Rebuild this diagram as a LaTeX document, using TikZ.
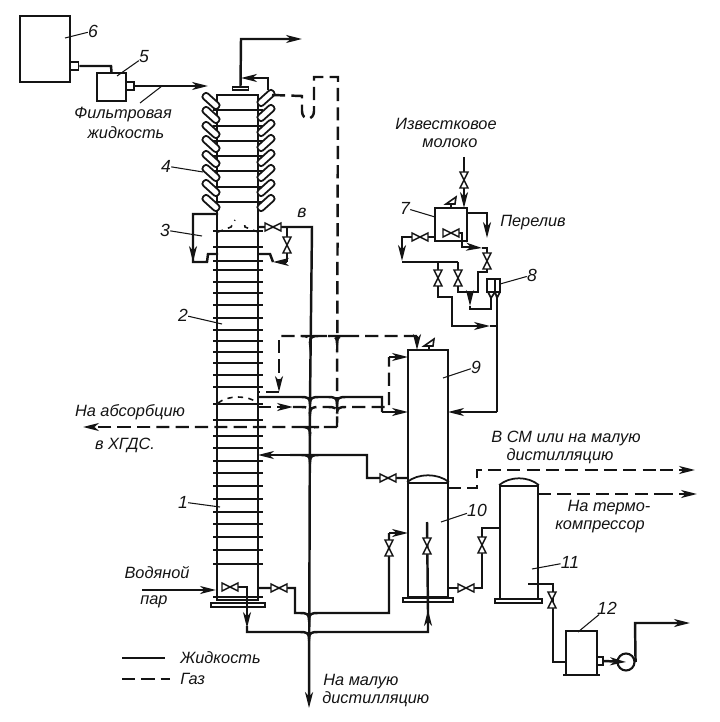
\documentclass[tikz,border=0pt]{standalone}
\usepackage{fontspec}
\setmainfont{Liberation Sans}
\usepackage{xcolor}
\definecolor{inkblack}{RGB}{20, 20, 20}
\usepackage{tikz}
\usetikzlibrary{arrows.meta, positioning, calc}
\newcommand{\pixel}{0.02cm}
% horizontal run that ducks under a vertical pipe
\newcommand{\hop}[2]{-- (#1-9,#2) .. controls (#1-2,#2) and (#1,#2+1) .. (#1,#2+7) .. controls (#1,#2+1) and (#1+2,#2) .. (#1+9,#2)}

\begin{document}
\begin{tikzpicture}[x=0.02cm, y=-0.02cm, inkblack,
        vessel/.style={rectangle, draw=inkblack, line width=1pt, inner sep=0pt},
        plate/.style={rectangle, draw=inkblack, line width=0.9pt, fill=white, inner sep=0pt, minimum height=4*\pixel},
        flange/.style={rectangle, draw=inkblack, line width=0.9pt, fill=white, inner sep=0pt, minimum width=8*\pixel, minimum height=8*\pixel},
        coil/.style={rectangle, draw=inkblack, line width=1pt, fill=white, rounded corners=1.6pt, inner sep=0pt, minimum width=20*\pixel, minimum height=7*\pixel},
        pipe/.style={draw=inkblack, line width=1.4pt},
        flow/.style={-{Stealth[length=9pt, width=4.5pt, inset=2.5pt]}},
        gas/.style={pipe, dash pattern=on 7.5pt off 3.5pt},
        wall/.style={draw=inkblack, line width=1pt},
        tray/.style={draw=inkblack, line width=0.9pt},
        leader/.style={draw=inkblack, line width=0.6pt},
        label/.style={font=\fontsize{9.3}{11}\selectfont\itshape, inner sep=0pt, text=inkblack},
        number/.style={font=\fontsize{10}{12}\selectfont\itshape, inner sep=0pt, text=inkblack},
        valve/.pic={\draw[fill=white, line width=0.8pt] (-8,-4) -- (8,4) -- (8,-4) -- (-8,4) -- cycle;},
        relief/.pic={\draw[line width=0.9pt] (0,0) -- (0,-4) (-5,-4) -- (5,-11) -- (4,-4) -- cycle;}]
        \useasboundingbox (0,0) rectangle (719,722);

        % apparatus
        \node [vessel, minimum width=50*\pixel, minimum height=66*\pixel] (tank) at (45,49) {};
        \node [vessel, minimum width=29*\pixel, minimum height=28*\pixel] (filter) at (111.5,87) {};
        \node [vessel, minimum width=41*\pixel, minimum height=505*\pixel] (column) at (237.5,347.5) {};
        \node [vessel, minimum width=32*\pixel, minimum height=33*\pixel] (doser) at (451,224.5) {};
        \node [vessel, minimum width=13*\pixel, minimum height=13*\pixel] (meter) at (493.5,285.5) {};
        \node [vessel, minimum width=40*\pixel, minimum height=133*\pixel] (scrubber) at (428,416.5) {};
        \node [vessel, minimum width=40*\pixel, minimum height=114*\pixel] (still) at (428,540) {};
        \node [vessel, minimum width=38*\pixel, minimum height=113*\pixel] (boiler) at (519,542.5) {};
        \node [vessel, minimum width=31*\pixel, minimum height=44*\pixel] (pan) at (581.5,653) {};
        \node [circle, draw=inkblack, line width=1.2pt, inner sep=0pt, minimum size=17*\pixel] (pump) at (626,662) {};

        \node [plate, minimum width=54*\pixel] (columnplate) at (238,605) {};
        \node [plate, minimum width=50*\pixel] (stillplate) at (428,600) {};
        \node [plate, minimum width=47*\pixel] (boilerplate) at (518.5,601) {};
        \draw [tray] (563,675) -- (600,675);
        \node [plate, minimum width=16*\pixel, minimum height=3*\pixel] (columnlid) at (240.5,88.5) {};

        % domes and inner lines
        \draw [wall] (still.north west) .. controls (418,473) and (438,473) .. (still.north east);
        \draw [wall] (boiler.north west) .. controls (510,476) and (528,476) .. (boiler.north east);
        \draw [wall] (495,279) -- (495,292);
        \draw [wall] (488,292) -- (491,298) -- (495,292) -- (497,298) -- (500,292);
        \draw [tray, dashed] (218,403) .. controls (228,395) and (248,395) .. (258,403);

        % trays of the column
        \foreach \y in {110,126,141,156,171,187,202,231,247,261,270,282,293,305,318,330,341,352,363,375,387,404,420,436,448,461,473,486,499,512,524,537,550,564,597}
            \draw [tray] (213,\y) -- (263,\y);
        \draw [tray] (223,95) -- (258,95);

        % coils
        \foreach \i/\y in {1/101,2/115,3/130,4/144,5/159,6/173,7/188,8/203}
            \node [coil, rotate=-42] (coilleft\i) at (211,\y) {};
        \foreach \i/\y in {1/98,2/113,3/128,4/143,5/158,6/173,7/188,8/203}
            \node [coil, rotate=42] (coilright\i) at (266,\y) {};

        % enlarged section 3
        \path [pipe] (218,214) -- (193,214) -- (193,262) -- (207,262) -- (208,254) -- (218,254);
        \path [pipe, flow] (193,240) -- (193,262);
        \path [pipe] (258,254) -- (270,254) -- (273,262);
        \path [pipe, flow] (287,262) -- (273,262);
        \path [pipe] (287,262) -- (287,227);
        \draw [tray, dashed] (218,232) -- (231,227) -- (235,220);
        \draw [tray, dashed] (258,232) -- (245,227) -- (244,220);

        % filter and tank
        \node [flange] (tankflange) at (74.5,66) {};
        \node [flange] (filterflange) at (130,86) {};
        \path [pipe] (tankflange.east) -- (111,66) -- (filter.north);
        \path [pipe, flow] (filterflange.east) -- (208,86);

        % top of the column
        \path [pipe, flow] (columnlid.north) -- (241,39) -- (302,39);
        \path [pipe, flow] (268,90) -- (268,78) -- (241,78);
        \path [gas] (272,95) -- (302,96) -- (302,111) .. controls (302,121) and (314,121) .. (314,111) -- (314,77) -- (338,77) -- (337,427);

        % main vertical
        \path [pipe] (258,227) -- (312,227) -- (310,400);
        \path [pipe, flow] (310,400) -- (309,708);

        % dashed and solid runs between the columns
        \path [gas, flow] (417,336) -- (417,350);
        \path [gas] (417,336) \hop{337}{336} \hop{310}{336} -- (279,336);
        \path [gas, flow] (279,340) -- (279,392);
        \path [gas] (279,392) -- (258,392);
        \path [pipe] (258,397) \hop{310}{397} \hop{337}{397} -- (382,397) -- (382,412);
        \path [pipe, flow] (382,412) -- (408,412);
        \path [gas, flow] (258,407) -- (293,407);
        \path [gas] (293,407) \hop{310}{407} \hop{337}{407} -- (389,407) -- (389,357);
        \path [pipe, flow] (389,357) -- (408,357);
        \path [gas] (337,427) \hop{310}{427} -- (150,427);
        \path [gas, flow] (150,427) -- (83,427);
        \path [pipe] (408,478) -- (367,478) -- (367,455) \hop{310}{455} -- (290,455);
        \path [pipe, flow] (290,455) -- (258,455);

        % bottom of column 1
        \path [pipe, flow] (142,590) -- (216,590);
        \path [pipe] (238,587) -- (247,587) -- (247,600);
        \path [pipe, flow] (247,600) -- (247,628);
        \path [pipe] (247,626) -- (247,632) \hop{309}{632} -- (428,632) -- (428,612);
        \path [pipe, flow] (428,632) -- (428,610);
        \path [pipe] (428,612) -- (427,522);
        \path [pipe] (257,588) -- (295,588) -- (295,613) \hop{309}{613} -- (389,613) -- (389,533);
        \path [pipe, flow] (389,533) -- (408,533);

        % columns 10 and 11
        \path [gas] (448,488) -- (477,488) -- (477,470) -- (660,470);
        \path [gas, flow] (660,470) -- (695,470);
        \path [gas] (538,494) -- (660,494);
        \path [gas, flow] (660,494) -- (697,494);
        \path [pipe] (448,588) -- (482,588) -- (482,528) -- (500,528);
        \path [pipe] (528,584) -- (553,584) -- (553,662) -- (566,662);

        % pump
        \node [flange, minimum width=6*\pixel] (panflange) at (600,661) {};
        \path [pipe, flow] (panflange.east) -- (pump.center);
        \path [pipe, flow] (pump.east) -- (635,623) -- (690,623);

        % lime milk unit
        \path [pipe] (464,157) -- (464,190);
        \path [pipe, flow] (464,190) -- (464,208);
        \path [pipe, flow] (467,213) -- (487,213) -- (487,238);
        \path [pipe] (451,233) -- (462,233) -- (462,247) -- (470,247);
        \path [pipe, flow] (470,247) -- (482,248);
        \path [pipe] (482,248) -- (487,248) -- (487,272) -- (478,272) -- (478,292) -- (458,292) -- (458,262);
        \path [pipe] (doser.south west |- 0,237) -- (402,237) -- (402,250);
        \path [pipe, flow] (402,237) -- (402,261);
        \path [pipe] (402,262) -- (458,262);
        \path [pipe] (438,262) -- (438,297) -- (452,297) -- (452,326) -- (470,326);
        \path [pipe, flow] (470,326) -- (490,326);
        \path [pipe] (490,326) -- (497,326);
        \path [pipe, flow] (470,292) -- (470,306);
        \path [pipe] (470,306) -- (470,309) -- (491,309) -- (491,298);
        \path [pipe] (497,298) -- (497,412);
        \path [pipe, flow] (497,412) -- (448,412);

        % valves
        \foreach \x/\y/\r in {273/227/0,287/245/90,230/587/0,279/588/0,389/548/90,427/546/90,388/478/0,466/588/0,482/545/90,552/600/90,464/180/90,451/233/0,420/237/0,487/261/90,438/278/90,458/278/90}
            \pic [rotate=\r] at (\x,\y) {valve};
        \pic at (451,208) {relief};
        \pic at (429,350) {relief};

        % legend
        \node [label, anchor=west] (legendliquid) at (180,658) {Жидкость};
        \node [label, anchor=west] (legendgas) at (180,679) {Газ};
        \path [pipe] (122,658) -- (165,658);
        \path [gas] (122,679) -- (170,679);

        % texts
        \node [label] (filtrate) at (123,115) {Фильтровая};
        \node [label] (filtrateb) at (126,133) {жидкость};
        \node [label] (limemilk) at (446,124) {Известковое};
        \node [label] (limemilkb) at (450,143) {молоко};
        \node [label] (overflow) at (533,223) {Перелив};
        \node [label] (absorb) at (130,412) {На абсорбцию};
        \node [label] (absorbb) at (125,445) {в ХГДС.};
        \node [label] (steam) at (157,573) {Водяной};
        \node [label] (steamb) at (154,602) {пар};
        \node [label, anchor=west] (smalldist) at (323,682) {На малую};
        \node [label, anchor=west] (smalldistb) at (322,699) {дистилляцию};
        \node [label] (tosm) at (566,438) {В СМ или на малую};
        \node [label] (tosmb) at (560,456) {дистилляцию};
        \node [label] (thermo) at (609,508) {На термо-};
        \node [label] (thermob) at (600,527) {компрессор};

        % numbers with their leaders
        \node [number] (nsix) at (93,31) {6};
        \node [number] (nfive) at (144,57) {5};
        \node [number] (nfour) at (166,166) {4};
        \node [number] (nthree) at (165,230) {3};
        \node [number] (ntwo) at (183,315) {2};
        \node [number] (none) at (183,502) {1};
        \node [number] (nseven) at (405,208) {7};
        \node [number] (neight) at (532,275) {8};
        \node [number] (nnine) at (476,367) {9};
        \node [number] (nten) at (477,510) {10};
        \node [number] (neleven) at (570,562) {11};
        \node [number] (ntwelve) at (607,608) {12};
        \node [number] (nv) at (302,213) {в};
        \path [leader] (nsix) -- (65,38);
        \path [leader] (nfive) -- (117,76);
        \path [leader] (nfour) -- (203,172);
        \path [leader] (nthree) -- (202,236);
        \path [leader] (ntwo) -- (222,324);
        \path [leader] (none) -- (220,507);
        \path [leader] (nseven) -- (435,217);
        \path [leader] (neight) -- (500,284);
        \path [leader] (nnine) -- (443,378);
        \path [leader] (nten) -- (441,522);
        \path [leader] (neleven) -- (532,569);
        \path [leader] (ntwelve) -- (578,632);
        \path [leader] (140,103) -- (162,86);
    \end{tikzpicture}
\end{document}
